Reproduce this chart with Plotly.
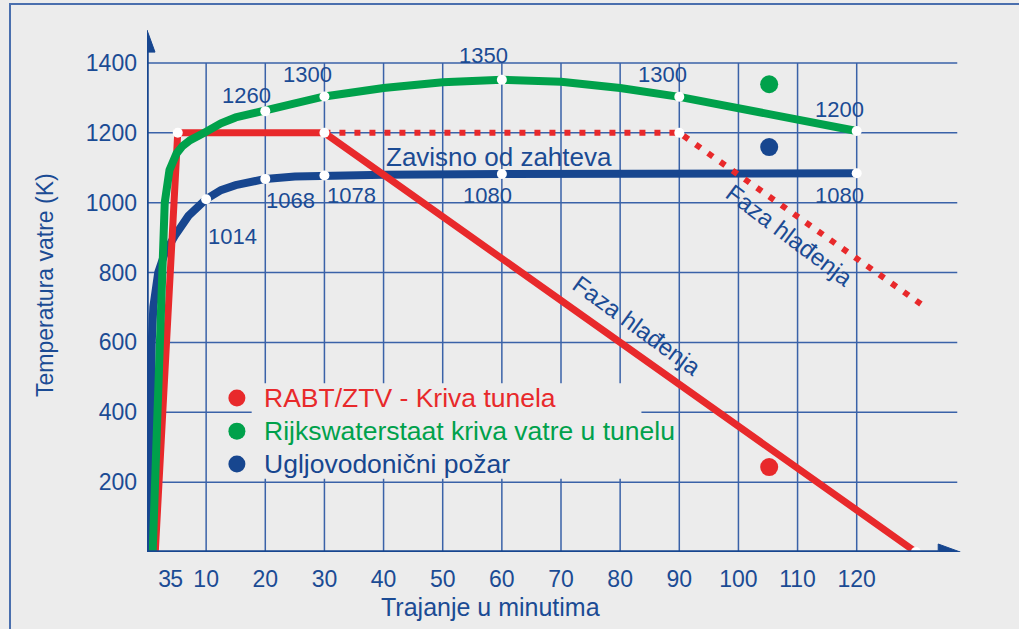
import plotly.graph_objects as go

# ---------------- data ----------------
x_tick_vals = [3, 5, 10, 20, 30, 40, 50, 60, 70, 80, 90, 100, 110, 120]
x_tick_text = ["3", "5", "10", "20", "30", "40", "50", "60", "70", "80", "90", "100", "110", "120"]
y_tick_vals = [200, 400, 600, 800, 1000, 1200, 1400]
y_tick_text = ["200", "400", "600", "800", "1000", "1200", "1400"]
grid_x = [10, 20, 30, 40, 50, 60, 70, 80, 90, 100, 110, 120]
grid_y = [200, 400, 600, 800, 1000, 1200, 1400]

# RABT/ZTV curve (solid) and its "depends on requirement" variant (dotted)
rabt_x = [1.4, 5.2, 30, 130]
rabt_y = [0, 1200, 1200, 0]
rabt_alt_x = [30, 90, 132]
rabt_alt_y = [1200, 1200, 696]

# Rijkswaterstaat curve
rws_x = [0.96, 1.35, 1.75, 2.2, 2.5, 3.0, 3.8, 5.0, 6.0, 7.3, 10, 12.5, 15, 20, 25, 30, 40, 50, 60, 70, 80, 90, 105, 120]
rws_y = [0, 200, 400, 600, 800, 1000, 1093, 1141, 1162, 1179, 1203, 1227, 1244, 1262, 1284, 1304, 1328, 1345, 1352, 1346, 1328, 1303, 1256, 1205]

# Hydrocarbon curve
hc_x = [0.8, 0.68, 0.68, 0.8, 1.07, 1.9, 3.0, 4.7, 7.0, 10, 12.5, 15, 20, 25, 30, 40, 60, 90, 120]
hc_y = [0, 200, 400, 600, 702, 800, 855, 905, 962, 1010, 1036, 1050, 1068, 1075, 1078, 1080, 1082, 1084, 1084]

# highlighted points (white dots)
pts_x = [5.2, 30, 90, 130, 20, 30, 60, 90, 120, 10, 20, 30, 60, 120]
pts_y = [1200, 1200, 1200, 0, 1262, 1304, 1352, 1303, 1205, 1010, 1068, 1078, 1082, 1084]

# value labels
lbl_text = ["1260", "1300", "1350", "1300", "1200", "1014", "1068", "1078", "1080", "1080"]
lbl_x = [16.9, 27.2, 56.9, 87.2, 117.1, 14.4, 24.2, 34.6, 57.5, 117.1]
lbl_y = [1308, 1366, 1420, 1366, 1266, 904, 1007, 1020, 1020, 1020]

legend_names = ["RABT/ZTV - Kriva tunela", "Rijkswaterstaat kriva vatre u tunelu", "Ugljovodonični požar"]
legend_y = [441, 346, 252]
big_dot_y = [243, 1339, 1159]

RED = "#e8292b"
GREEN = "#00a14b"
BLUE = "#17468f"
TXT = "#1b4b94"
GRID = "#3a62a8"
BG = "#ececec"
FONT = "Liberation Sans, Arial, sans-serif"

W, H = 1019, 629
L, R, T, B = 147, 44, 28, 77
PW, PH = W - L - R, H - T - B
X_MAX, Y_MAX = 140, 1500
SX = PW / X_MAX   # px per minute
SY = PH / Y_MAX   # px per kelvin


def px2paper_x(px):
    return (px - L) / PW


def px2paper_y(py):
    return (H - B - py) / PH


fig = go.Figure()

# curves
fig.add_trace(go.Scatter(x=hc_x, y=hc_y, mode="lines", line=dict(color=BLUE, width=8), hoverinfo="skip"))
fig.add_trace(go.Scatter(x=rabt_x, y=rabt_y, mode="lines", line=dict(color=RED, width=7), hoverinfo="skip"))
fig.add_trace(go.Scatter(x=rws_x, y=rws_y, mode="lines", line=dict(color=GREEN, width=8), hoverinfo="skip"))
fig.add_trace(go.Scatter(x=rabt_alt_x, y=rabt_alt_y, mode="lines",
                         line=dict(color=RED, width=6, dash="6px,9px"), hoverinfo="skip"))
fig.add_trace(go.Scatter(x=pts_x, y=pts_y, mode="markers",
                         marker=dict(color="white", size=10, line=dict(width=0)), hoverinfo="skip"))

# legend dots and the big dots on the right
cols = [RED, GREEN, BLUE]
fig.add_trace(go.Scatter(x=[15.2] * 3, y=legend_y, mode="markers",
                         marker=dict(color=cols, size=17, line=dict(width=0)), hoverinfo="skip"))
fig.add_trace(go.Scatter(x=[105.2] * 3, y=big_dot_y, mode="markers",
                         marker=dict(color=cols, size=18, line=dict(width=0)), hoverinfo="skip"))

shapes = []
# frame around whole picture
shapes.append(dict(type="rect", xref="paper", yref="paper",
                   x0=px2paper_x(10), x1=px2paper_x(1040), y0=px2paper_y(650), y1=px2paper_y(4),
                   line=dict(color="#4a6fae", width=2), fillcolor="rgba(0,0,0,0)", layer="below"))
# grid
for gx in grid_x:
    shapes.append(dict(type="line", xref="x", yref="y", x0=gx, x1=gx, y0=0, y1=1400,
                       line=dict(color=GRID, width=1.5), layer="below"))
for gy in grid_y:
    shapes.append(dict(type="line", xref="x", yref="y", x0=0, x1=137, y0=gy, y1=gy,
                       line=dict(color=GRID, width=1.5), layer="below"))
# legend background box hiding grid
shapes.append(dict(type="rect", xref="x", yref="y", x0=17.7, x1=83.6, y0=210, y1=483,
                   fillcolor=BG, line=dict(width=0), layer="below"))
# axes with arrow heads
x_tip, y_tip = 137.5, 1494
head_len, head_half = 22, 8
shapes.append(dict(type="line", xref="x", yref="y", x0=0, x1=x_tip - head_len / SX, y0=0, y1=0,
                   line=dict(color=BLUE, width=3.5), layer="above"))
shapes.append(dict(type="line", xref="x", yref="y", x0=0, x1=0, y0=0, y1=y_tip - head_len / SY,
                   line=dict(color=BLUE, width=3.5), layer="above"))
bx = x_tip - head_len / SX
hy = head_half / SY
shapes.append(dict(type="path", xref="x", yref="y",
                   path=f"M {bx},{-hy} L {bx},{hy} L {x_tip},0 Z",
                   fillcolor=BLUE, line=dict(color=BLUE, width=1), layer="above"))
by = y_tip - head_len / SY
hx = head_half / SX
shapes.append(dict(type="path", xref="x", yref="y",
                   path=f"M {-hx},{by} L {hx},{by} L 0,{y_tip} Z",
                   fillcolor=BLUE, line=dict(color=BLUE, width=1), layer="above"))

annotations = []
for t, x, y in zip(lbl_text, lbl_x, lbl_y):
    annotations.append(dict(x=x, y=y, xref="x", yref="y", text=t, showarrow=False,
                            font=dict(family=FONT, size=22, color=TXT)))
annotations.append(dict(x=59.6, y=1130, xref="x", yref="y", text="Zavisno od zahteva", showarrow=False,
                        font=dict(family=FONT, size=26, color=TXT)))
annotations.append(dict(x=82.8, y=647, xref="x", yref="y", text="Faza hlađenja", showarrow=False,
                        textangle=36, font=dict(family=FONT, size=24, color=TXT)))
annotations.append(dict(x=108.7, y=907, xref="x", yref="y", text="Faza hlađenja", showarrow=False,
                        textangle=37, font=dict(family=FONT, size=24, color=TXT)))
for name, col, ly in zip(legend_names, cols, legend_y):
    annotations.append(dict(x=19.4, y=ly, xref="x", yref="y", text=name, showarrow=False,
                            xanchor="left", yanchor="middle", font=dict(family=FONT, size=26.5, color=col)))
annotations.append(dict(x=px2paper_x(490), y=px2paper_y(607), xref="paper", yref="paper",
                        text="Trajanje u minutima", showarrow=False, xanchor="center", yanchor="middle",
                        font=dict(family=FONT, size=25, color=TXT)))
annotations.append(dict(x=px2paper_x(45), y=px2paper_y(285), xref="paper", yref="paper",
                        text="Temperatura vatre (K)", showarrow=False, textangle=-90,
                        xanchor="center", yanchor="middle",
                        font=dict(family=FONT, size=23, color=TXT)))

fig.update_layout(
    width=W, height=H,
    margin=dict(l=L, r=R, t=T, b=B, pad=0),
    paper_bgcolor=BG, plot_bgcolor=BG,
    showlegend=False,
    shapes=shapes,
    annotations=annotations,
    xaxis=dict(range=[0, X_MAX], tickvals=x_tick_vals, ticktext=x_tick_text, showgrid=False,
               zeroline=False, showline=False, ticks="", ticklabelstandoff=11, tickangle=0,
               tickfont=dict(family=FONT, size=23, color=TXT), fixedrange=True),
    yaxis=dict(range=[0, Y_MAX], tickvals=y_tick_vals, ticktext=y_tick_text, showgrid=False,
               zeroline=False, showline=False, ticks="", ticklabelstandoff=9,
               tickfont=dict(family=FONT, size=23, color=TXT), fixedrange=True),
)

fig.write_html("out.html", config={"displayModeBar": False},
               post_script="document.body.style.margin='0';")
